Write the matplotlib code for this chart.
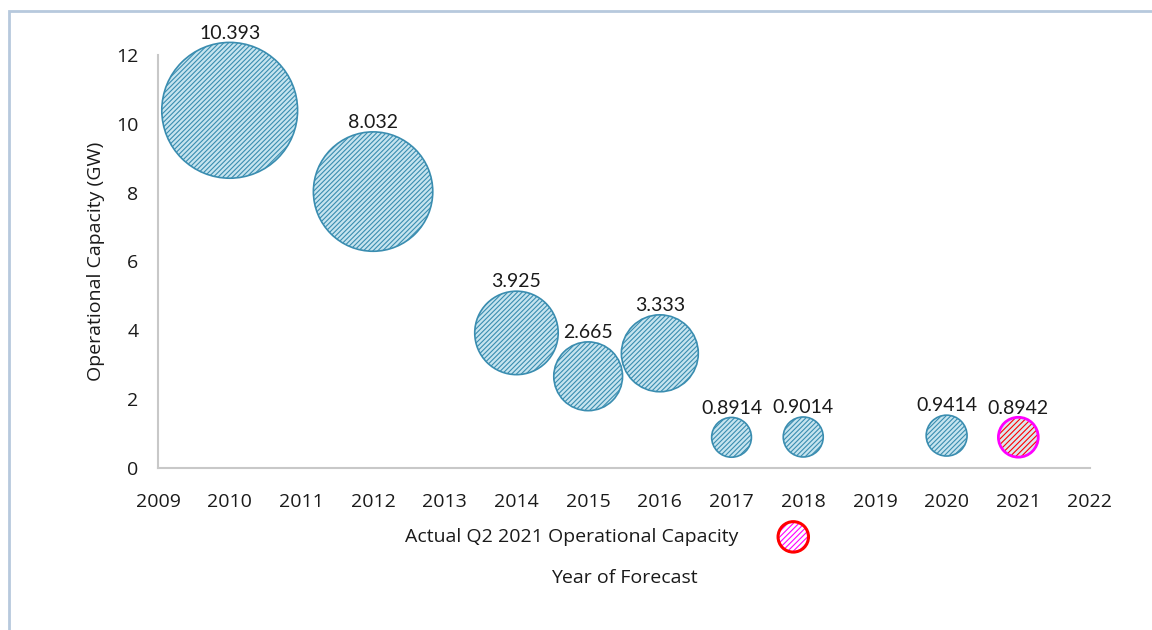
import matplotlib
matplotlib.use("Agg")
import matplotlib.pyplot as plt
from matplotlib.patches import Rectangle
from matplotlib.legend_handler import HandlerTuple
import math

years = [2010, 2012, 2014, 2015, 2016, 2017, 2018, 2020]
capacity = [10.393, 8.032, 3.925, 2.665, 3.333, 0.8914, 0.9014, 0.9414]
labels = ["10.393", "8.032", "3.925", "2.665", "3.333", "0.8914", "0.9014", "0.9414"]
actual_year = [2021]
actual_cap = [0.8942]
actual_label = ["0.8942"]
xticks = list(range(2009, 2023))
yticks = [0, 2, 4, 6, 8, 10, 12]

SIZE_SCALE = 920
plt.rcParams['hatch.linewidth'] = 0.8
plt.rcParams['font.family'] = ['Open Sans', 'DejaVu Sans']
FS = 14

fig = plt.figure(figsize=(11.52, 6.30), dpi=100)
ax = fig.add_axes([158/1152, 1-468/630, (1090-158)/1152, (468-55)/630])

face = '#c6e4ef'
edge = '#3a8db0'
ax.scatter(years, capacity, s=[c*SIZE_SCALE for c in capacity], facecolor=face,
           edgecolor=edge, hatch='///////', linewidth=1.2, zorder=3, clip_on=False)
# actual point: red hatch, magenta outline
ax.scatter(actual_year, actual_cap, s=[c*SIZE_SCALE for c in actual_cap], facecolor='#d9e8ee',
           edgecolor='#ff0000', hatch='//////', linewidth=0, zorder=3)
ax.scatter(actual_year, actual_cap, s=[c*SIZE_SCALE for c in actual_cap], facecolor='none',
           edgecolor='#ff00ff', linewidth=2, zorder=4)

# data labels above bubbles
for x, y, lab in zip(years + actual_year, capacity + actual_cap, labels + actual_label):
    r_pt = math.sqrt(y*SIZE_SCALE)/2
    ax.annotate(lab, (x, y), xytext=(0, r_pt + 0.5), textcoords='offset points',
                ha='center', va='bottom', fontsize=FS, color='#1a1a1a',
                family=['Lato', 'DejaVu Sans'], annotation_clip=False)

ax.set_xlim(2009, 2022)
ax.set_ylim(0, 12)
ax.set_xticks(xticks)
ax.set_yticks(yticks)
ax.tick_params(length=0, labelsize=FS, colors='#1a1a1a')
ax.tick_params(axis='x', pad=18)
ax.tick_params(axis='y', pad=14)
for s in ['top', 'right']:
    ax.spines[s].set_visible(False)
for s in ['left', 'bottom']:
    ax.spines[s].set_color('#c8c8c8')
    ax.spines[s].set_linewidth(1.5)

ax.set_ylabel('Operational Capacity (GW)', fontsize=FS, color='#1a1a1a', labelpad=8)
ax.set_xlabel('Year of Forecast', fontsize=FS, color='#1a1a1a', labelpad=42)

h1 = ax.scatter([], [], s=480, facecolor='white', edgecolor='#ff00ff', hatch='//////', linewidth=0)
h2 = ax.scatter([], [], s=480, facecolor='none', edgecolor='#ff0000', linewidth=2.2)
ax.legend([(h1, h2)], ['Actual Q2 2021 Operational Capacity'], handler_map={tuple: HandlerTuple(ndivide=1)},
          loc='center', bbox_to_anchor=(0.484, -0.167), frameon=False, markerfirst=False,
          fontsize=FS, labelcolor='#1a1a1a', handletextpad=1.8)

fig.patches.append(Rectangle((9/1152, -0.1), 1.2, 1-11/630+0.1, transform=fig.transFigure,
                             fill=False, edgecolor='#b7c9dd', linewidth=2))

fig.savefig('out.png', dpi=100)
